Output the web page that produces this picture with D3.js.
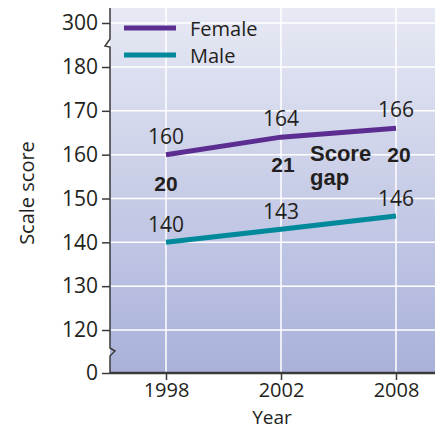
<!DOCTYPE html>
<html><head><meta charset="utf-8">
<script src="https://cdn.jsdelivr.net/npm/d3@7"></script>
<style>body{margin:0;background:#fff}svg{display:block}</style>
</head><body>
<svg id="c" width="435" height="430"></svg>
<script>
const years = ["1998", "2002", "2008"];
const female = [160, 164, 166];
const male = [140, 143, 146];
const gaps = [20, 21, 20];
const yTicks = [0, 120, 130, 140, 150, 160, 170, 180, 300];
const seriesNames = ["Female", "Male"];
const colors = ["#5c2d91", "#00899b"];

const svg = d3.select("#c");
const L = 110, R = 435, T = 8, B = 373;
const font = "'Open Sans', sans-serif";

const x = d3.scalePoint().domain(years).range([166, 396]);
const y = d3.scaleLinear().domain([0, 120, 180, 300]).range([B, 330, 67, 23]);

const defs = svg.append("defs");
const g = defs.append("linearGradient").attr("id", "bg").attr("x1", 0).attr("y1", 0).attr("x2", 0).attr("y2", 1);
g.append("stop").attr("offset", 0).attr("stop-color", "#e7e9f4");
g.append("stop").attr("offset", 1).attr("stop-color", "#a9b1da");
svg.append("rect").attr("x", L).attr("y", T).attr("width", R - L).attr("height", B - T).attr("fill", "url(#bg)");

// grid
svg.append("g").selectAll("line").data(yTicks.filter(d => d > 0)).join("line")
  .attr("x1", L).attr("x2", R).attr("y1", d => y(d)).attr("y2", d => y(d))
  .attr("stroke", "#fff").attr("stroke-width", 1.5);
svg.append("g").selectAll("line").data(years).join("line")
  .attr("x1", d => x(d)).attr("x2", d => x(d)).attr("y1", T).attr("y2", B)
  .attr("stroke", "#fff").attr("stroke-width", 1.5);

// y axis
const ya = svg.append("g").attr("transform", `translate(${L},0)`)
  .call(d3.axisLeft(y).tickValues(yTicks).tickSize(8).tickPadding(4).tickSizeOuter(0));
ya.select(".domain").remove();
ya.selectAll(".tick line").attr("stroke", "#3a3a3a").attr("stroke-width", 1.5);
ya.selectAll(".tick text").attr("font-family", font).attr("font-size", 21).attr("fill", "#231f20");
// y axis line with breaks
const yb1 = 45, yb2 = 352;
svg.append("path").attr("fill", "none").attr("stroke", "#3a3a3a").attr("stroke-width", 1.5)
  .attr("d", `M${L},${T} V${yb1 - 6} L${L - 5},${yb1 + 1} L${L},${yb1 + 2} V${yb2 - 4} L${L + 5},${yb2 - 1} L${L},${yb2 + 4} V${B}`);

// x axis
const xa = svg.append("g").attr("transform", `translate(0,${B})`)
  .call(d3.axisBottom(x).tickSize(7).tickPadding(3).tickSizeOuter(0));
xa.select(".domain").remove();
xa.selectAll(".tick line").attr("stroke", "#3a3a3a").attr("stroke-width", 1.5);
xa.selectAll(".tick text").attr("font-family", font).attr("font-size", 20).attr("fill", "#231f20");
svg.append("line").attr("x1", L).attr("x2", R).attr("y1", B).attr("y2", B).attr("stroke", "#3a3a3a").attr("stroke-width", 2.5);

// lines
const line = d3.line().x((d, i) => x(years[i])).y(d => y(d));
[female, male].forEach((s, k) => {
  svg.append("path").attr("d", line(s)).attr("fill", "none").attr("stroke", colors[k]).attr("stroke-width", 5);
});

// value labels
const lab = svg.append("g").attr("font-family", font).attr("font-size", 21).attr("fill", "#231f20").attr("text-anchor", "middle");
female.forEach((v, i) => lab.append("text").attr("x", x(years[i])).attr("y", y(v) - 11).text(v));
male.forEach((v, i) => lab.append("text").attr("x", x(years[i])).attr("y", y(v) - 10).text(v));

// gap labels
const gl = svg.append("g").attr("font-family", "'Liberation Sans', Arial, sans-serif").attr("font-weight", "bold").attr("font-size", 21).attr("fill", "#231f20").attr("text-anchor", "middle");
const gapY = [191, 172, 162];
const gapDx = [0, 2, 3];
gaps.forEach((v, i) => gl.append("text").attr("x", x(years[i]) + gapDx[i]).attr("y", gapY[i]).text(v));
gl.append("text").attr("x", 310).attr("y", 161).attr("text-anchor", "start").attr("font-size", 22).text("Score");
gl.append("text").attr("x", 310).attr("y", 185).attr("text-anchor", "start").attr("font-size", 22).text("gap");

// legend
seriesNames.forEach((n, k) => {
  const ly = 28 + k * 27;
  svg.append("line").attr("x1", 124).attr("x2", 176).attr("y1", ly).attr("y2", ly).attr("stroke", colors[k]).attr("stroke-width", 5);
  svg.append("text").attr("x", 190).attr("y", ly + 8).attr("font-family", font).attr("font-size", 20).attr("fill", "#231f20").text(n);
});

// axis titles
svg.append("text").attr("transform", "translate(34,193) rotate(-90)").attr("text-anchor", "middle")
  .attr("font-family", font).attr("font-size", 20).attr("fill", "#231f20").text("Scale score");
svg.append("text").attr("x", 272).attr("y", 424).attr("text-anchor", "middle")
  .attr("font-family", font).attr("font-size", 19).attr("fill", "#231f20").text("Year");
</script>
</body></html>
